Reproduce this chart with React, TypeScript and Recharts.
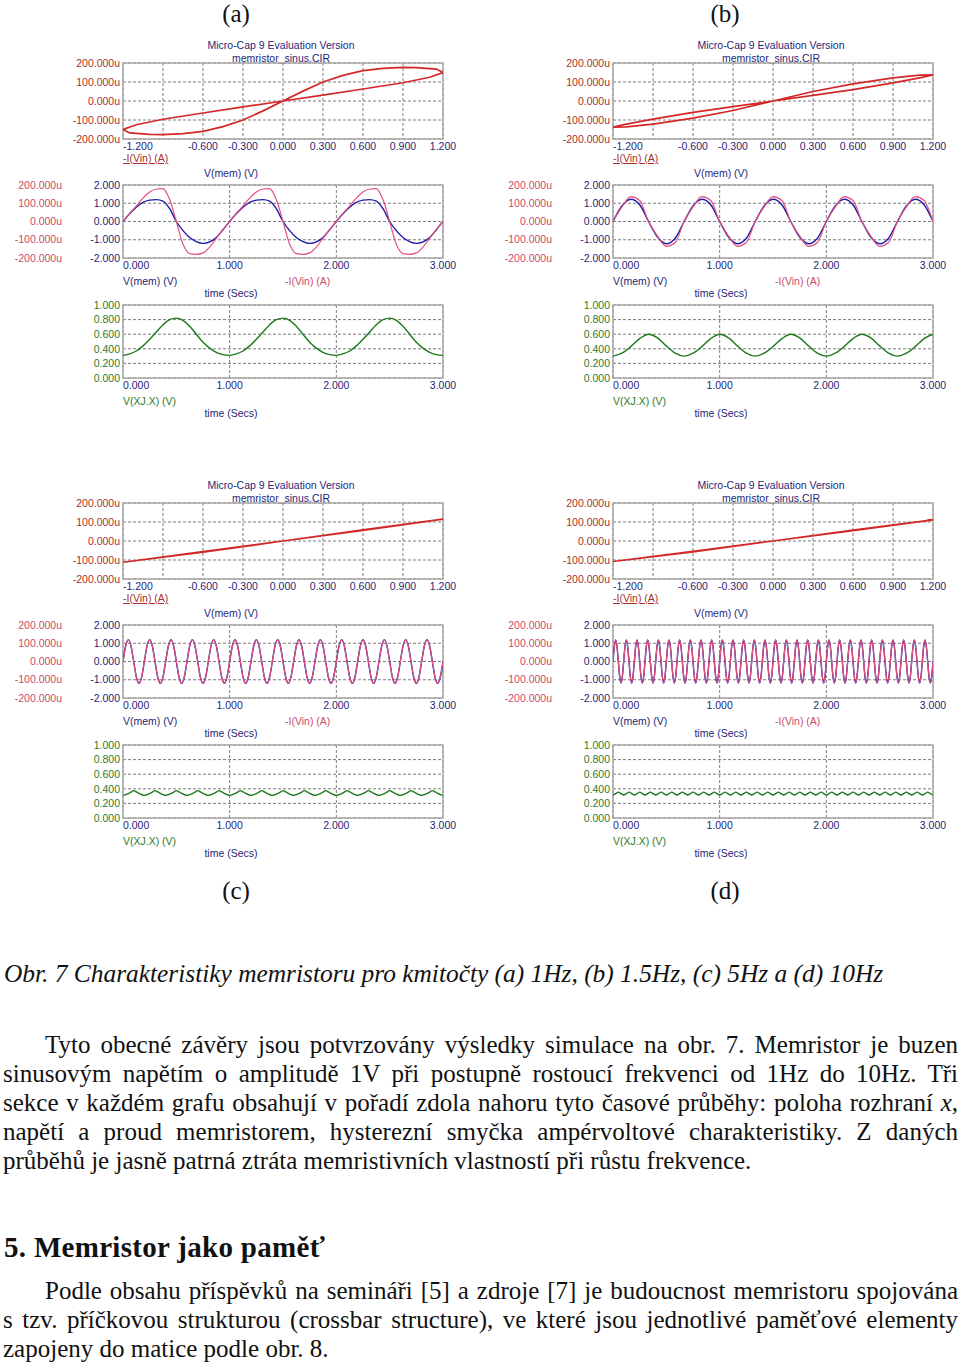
import React from 'react'
import { LineChart, Line, XAxis, YAxis, CartesianGrid, ReferenceArea } from 'recharts'

const SANS = '"Liberation Sans", Arial, sans-serif'
const SERIF = '"Liberation Serif", "Times New Roman", serif'
const FS = 10.5

const NAVY = '#1f1f78'
const DARKRED = '#a8302c'
const PINK = '#c84a6c'
const GREENTXT = '#2c7a2c'
const RED = '#d42828'
const BLUE = '#1c1ca6'
const PINKLINE = '#e2507e'
const GREEN = '#1c7a1c'
const GRID = '#7c7c7c'
const FRAME = '#a9a9a9'

// axis ticks
const ivVoltTicks = [-1.2, -0.9, -0.6, -0.3, 0, 0.3, 0.6, 0.9, 1.2]
const currTicks = [-200, -100, 0, 100, 200]
const timeTicks = [0, 1, 2, 3]
const voltTicks = [-2, -1, 0, 1, 2]
const stateTicks = [0, 0.2, 0.4, 0.6, 0.8, 1]

// hysteresis loops, V(mem) [V] against -I(Vin) [uA], in drawing order
const loopV_a = [0, 0.3, 0.6, 0.9, 1.1, 1.2, 1.15, 1.0, 0.9, 0.75, 0.6, 0.45, 0.3, 0.15, 0, -0.15, -0.3, -0.45, -0.6, -0.75, -0.9, -1.0, -1.15, -1.2, -1.1, -0.9, -0.6, -0.3, 0]
const loopI_a = [0, 31, 63, 96, 125, 150, 168, 176, 177, 172, 160, 135, 100, 52, 0, -52, -100, -135, -160, -172, -177, -176, -168, -150, -125, -96, -63, -31, 0]
const loopV_b = [0, 0.3, 0.6, 0.9, 1.1, 1.2, 1.1, 0.9, 0.6, 0.3, 0, -0.3, -0.6, -0.9, -1.1, -1.2, -1.1, -0.9, -0.6, -0.3, 0]
const loopI_b = [0, 30, 60, 95, 122, 137, 136, 122, 90, 50, 0, -50, -90, -122, -136, -137, -122, -95, -60, -30, 0]
const loopV_c = [0, 0.6, 1.2, 0.6, 0, -0.6, -1.2, -0.6, 0]
const loopI_c = [0, 56, 115, 59, 0, -59, -112, -56, 0]
const loopV_d = [0, 0.6, 1.2, 0.6, 0, -0.6, -1.2, -0.6, 0]
const loopI_d = [0, 55, 111, 57, 0, -57, -108, -55, 0]

// one period of each waveform, read at equal steps of the period
const memV_a = [0, 0.42, 0.78, 1.05, 1.17, 1.2, 1.12, 0.7, 0, -0.5, -0.88, -1.1, -1.2, -1.12, -0.88, -0.45, 0]
const memI_a = [0, 45, 85, 128, 162, 178, 180, 120, 0, -125, -176, -180, -172, -140, -92, -45, 0]
const stateX_a = [0.31, 0.33, 0.37, 0.44, 0.53, 0.63, 0.73, 0.8, 0.82, 0.79, 0.71, 0.6, 0.49, 0.41, 0.35, 0.32, 0.31]

const memV_b = [0, 0.85, 1.22, 0.92, 0, -0.85, -1.22, -0.92, 0]
const memI_b = [0, 80, 136, 115, 0, -80, -136, -115, 0]
const stateX_b = [0.3, 0.34, 0.43, 0.54, 0.6, 0.55, 0.44, 0.34, 0.3]

const memV_c = [0, 0.85, 1.2, 0.85, 0, -0.85, -1.2, -0.85, 0]
const memI_c = [0, 84, 119, 84, 0, -84, -119, -84, 0]
const stateX_c = [0.31, 0.32, 0.335, 0.355, 0.375, 0.358, 0.338, 0.32, 0.31]

const memV_d = [0, 0.83, 1.18, 0.83, 0, -0.83, -1.18, -0.83, 0]
const memI_d = [0, 82, 117, 82, 0, -82, -117, -82, 0]
const stateX_d = [0.315, 0.333, 0.355, 0.335, 0.315]

// periods in seconds: 1Hz, 1.5Hz, 5Hz, 10Hz
const periods = [1, 2 / 3, 0.2, 0.1]

// repeat one period over the 3 s window
function tile(period: number, cols: Record<string, number[]>) {
  const names = Object.keys(cols)
  const n = cols[names[0]].length - 1
  const rows: any[] = []
  for (let c = 0; c < 100; c++) {
    for (let k = c === 0 ? 0 : 1; k <= n; k++) {
      const t = (c + k / n) * period
      if (t > 3 + 1e-9) return rows
      const row: any = { t }
      names.forEach((nm) => (row[nm] = cols[nm][k]))
      rows.push(row)
    }
  }
  return rows
}

const zipLoop = (v: number[], i: number[]) => v.map((x, k) => ({ v: x, i: i[k] }))

const fmtV = (v: number) => (Math.abs(v) < 1e-9 ? '0.000' : v.toFixed(3))
const fmtU = (v: number) => `${fmtV(v)}u`
const fmtIV = (v: number) => (Math.abs(v + 0.9) < 1e-6 ? '' : fmtV(v))

function xTick(color: string, fmt: (v: number) => string) {
  return (p: any) => (
    <text
      x={p.x}
      y={p.y}
      dy="0.71em"
      textAnchor={p.index === 0 ? 'start' : 'middle'}
      fill={color}
      fontSize={FS}
      fontFamily={SANS}
    >
      {fmt(p.payload.value)}
    </text>
  )
}

function Txt({ x, y, color, center, underline, children }: any) {
  return (
    <div
      style={{
        position: 'absolute',
        left: x,
        top: y - 6,
        lineHeight: '12px',
        fontSize: FS,
        fontFamily: SANS,
        color,
        whiteSpace: 'nowrap',
        transform: center ? 'translateX(-50%)' : undefined,
        textDecoration: underline ? 'underline' : undefined,
      }}
    >
      {children}
    </div>
  )
}

const axisCommon = { axisLine: false, tickLine: false, tickSize: 0, allowDataOverflow: true, interval: 0 as const }

function Panel({ L, T, loop, wave, state }: any) {
  const midTop = T + 122
  const botTop = T + 242
  return (
    <>
      <Txt x={L + 158} y={T - 18} color={NAVY} center>Micro-Cap 9 Evaluation Version</Txt>
      <Txt x={L + 158} y={T - 5} color={NAVY} center>memristor_sinus.CIR</Txt>

      <div style={{ position: 'absolute', left: L - 75, top: T - 8 }}>
        <LineChart width={415} height={104} data={loop} margin={{ top: 8, right: 20, bottom: 0, left: 0 }}>
          <CartesianGrid stroke={GRID} strokeDasharray="3 2" />
          <XAxis dataKey="v" type="number" domain={[-1.2, 1.2]} ticks={ivVoltTicks} height={20} tickMargin={4}
            tick={xTick(NAVY, fmtIV)} {...axisCommon} />
          <YAxis type="number" domain={[-200, 200]} ticks={currTicks} width={75} tickMargin={3}
            tick={{ fill: DARKRED, fontSize: FS, fontFamily: SANS }} tickFormatter={fmtU} {...axisCommon} />
          <ReferenceArea x1={-1.2} x2={1.2} y1={-200} y2={200} fill="none" stroke={FRAME} strokeWidth={1.5} ifOverflow="visible" />
          <Line dataKey="i" type="linear" stroke={RED} strokeWidth={1.7} dot={false} isAnimationActive={false} />
        </LineChart>
      </div>
      <Txt x={L} y={T + 95} color={DARKRED} underline>-I(Vin) (A)</Txt>
      <Txt x={L + 108} y={T + 110} color={NAVY} center>V(mem) (V)</Txt>

      <div style={{ position: 'absolute', left: L - 128, top: midTop - 8 }}>
        <LineChart width={468} height={101} data={wave} margin={{ top: 8, right: 20, bottom: 0, left: 0 }}>
          <CartesianGrid yAxisId="a" stroke={GRID} strokeDasharray="3 2" />
          <XAxis dataKey="t" type="number" domain={[0, 3]} ticks={timeTicks} height={20} tickMargin={4}
            tick={xTick(NAVY, fmtV)} {...axisCommon} />
          <YAxis yAxisId="a" type="number" domain={[-2, 2]} ticks={voltTicks} width={58} tickMargin={3}
            tick={{ fill: NAVY, fontSize: FS, fontFamily: SANS }} tickFormatter={fmtV} {...axisCommon} />
          <YAxis yAxisId="b" type="number" domain={[-200, 200]} ticks={currTicks} width={70} tickMargin={3}
            tick={{ fill: PINK, fontSize: FS, fontFamily: SANS }} tickFormatter={fmtU} {...axisCommon} />
          <ReferenceArea yAxisId="a" x1={0} x2={3} y1={-2} y2={2} fill="none" stroke={FRAME} strokeWidth={1.5} ifOverflow="visible" />
          <Line yAxisId="a" dataKey="v" type="monotone" stroke={BLUE} strokeWidth={1.4} dot={false} isAnimationActive={false} />
          <Line yAxisId="b" dataKey="i" type="monotone" stroke={PINKLINE} strokeWidth={1.2} dot={false} isAnimationActive={false} />
        </LineChart>
      </div>
      <Txt x={L} y={midTop + 96} color={NAVY}>V(mem) (V)</Txt>
      <Txt x={L + 162} y={midTop + 96} color={PINK}>-I(Vin) (A)</Txt>
      <Txt x={L + 108} y={midTop + 108} color={NAVY} center>time (Secs)</Txt>

      <div style={{ position: 'absolute', left: L - 75, top: botTop - 8 }}>
        <LineChart width={415} height={101} data={state} margin={{ top: 8, right: 20, bottom: 0, left: 0 }}>
          <CartesianGrid stroke={GRID} strokeDasharray="3 2" />
          <XAxis dataKey="t" type="number" domain={[0, 3]} ticks={timeTicks} height={20} tickMargin={4}
            tick={xTick(NAVY, fmtV)} {...axisCommon} />
          <YAxis type="number" domain={[0, 1]} ticks={stateTicks} width={75} tickMargin={3}
            tick={{ fill: GREENTXT, fontSize: FS, fontFamily: SANS }} tickFormatter={fmtV} {...axisCommon} />
          <ReferenceArea x1={0} x2={3} y1={0} y2={1} fill="none" stroke={FRAME} strokeWidth={1.5} ifOverflow="visible" />
          <Line dataKey="x" type="monotone" stroke={GREEN} strokeWidth={1.4} dot={false} isAnimationActive={false} />
        </LineChart>
      </div>
      <Txt x={L} y={botTop + 96} color={GREENTXT}>V(XJ.X) (V)</Txt>
      <Txt x={L + 108} y={botTop + 108} color={NAVY} center>time (Secs)</Txt>
    </>
  )
}

const panels = [
  { L: 123, T: 63, loop: zipLoop(loopV_a, loopI_a), wave: tile(periods[0], { v: memV_a, i: memI_a }), state: tile(periods[0], { x: stateX_a }) },
  { L: 613, T: 63, loop: zipLoop(loopV_b, loopI_b), wave: tile(periods[1], { v: memV_b, i: memI_b }), state: tile(periods[1], { x: stateX_b }) },
  { L: 123, T: 503, loop: zipLoop(loopV_c, loopI_c), wave: tile(periods[2], { v: memV_c, i: memI_c }), state: tile(periods[2], { x: stateX_c }) },
  { L: 613, T: 503, loop: zipLoop(loopV_d, loopI_d), wave: tile(periods[3], { v: memV_d, i: memI_d }), state: tile(periods[3], { x: stateX_d }) },
]

const para1 = [
  'Tyto obecné závěry jsou potvrzovány výsledky simulace na obr. 7. Memristor je buzen',
  'sinusovým napětím o amplitudě 1V při postupně rostoucí frekvenci od 1Hz do 10Hz. Tři',
  'sekce v každém grafu obsahují v pořadí zdola nahoru tyto časové průběhy: poloha rozhraní',
  'napětí a proud memristorem, hysterezní smyčka ampérvoltové charakteristiky. Z daných',
  'průběhů je jasně patrná ztráta memristivních vlastností při růstu frekvence.',
]
const para2 = [
  'Podle obsahu příspěvků na semináři [5] a zdroje [7] je budoucnost memristoru spojována',
  's tzv. příčkovou strukturou (crossbar structure), ve které jsou jednotlivé paměťové elementy',
  'zapojeny do matice podle obr. 8.',
]

function Para({ lines, top }: { lines: string[]; top: number }) {
  return (
    <div style={{ position: 'absolute', left: 3, top, width: 955, fontFamily: SERIF, fontSize: 25, color: '#111' }}>
      {lines.map((ln, k) => (
        <div
          key={k}
          style={{
            height: 29,
            lineHeight: '29px',
            paddingLeft: k === 0 ? 42 : 0,
            textAlign: 'justify',
            textAlignLast: k === lines.length - 1 ? 'left' : 'justify',
            whiteSpace: 'nowrap',
          }}
        >
          {ln}
          {lines === para1 && k === 2 ? <> <i>x</i>,</> : null}
        </div>
      ))}
    </div>
  )
}

const letter = (s: string, x: number, y: number) => (
  <div style={{ position: 'absolute', left: x, top: y - 12, width: 40, marginLeft: -20, textAlign: 'center', fontFamily: SERIF, fontSize: 25, lineHeight: '25px', color: '#111' }}>
    {s}
  </div>
)

export default function App() {
  return (
    <div style={{ position: 'relative', width: 960, height: 1365, background: '#fff', overflow: 'hidden' }}>
      <style>{'body{margin:0}'}</style>
      {letter('(a)', 236, 13)}
      {letter('(b)', 725, 13)}
      {letter('(c)', 236, 890)}
      {letter('(d)', 725, 890)}
      {panels.map((p, k) => (
        <Panel key={k} {...p} />
      ))}
      <div style={{ position: 'absolute', left: 4, top: 958, fontFamily: SERIF, fontStyle: 'italic', fontSize: 25.4, lineHeight: '30px', color: '#111', whiteSpace: 'nowrap' }}>
        Obr. 7 Charakteristiky memristoru pro kmitočty (a) 1Hz, (b) 1.5Hz, (c) 5Hz a (d) 10Hz
      </div>
      <Para lines={para1} top={1030} />
      <div style={{ position: 'absolute', left: 4, top: 1232, fontFamily: SERIF, fontWeight: 'bold', fontSize: 29, letterSpacing: 0.3, lineHeight: '30px', color: '#111', whiteSpace: 'nowrap' }}>
        5. Memristor jako paměť
      </div>
      <Para lines={para2} top={1276} />
    </div>
  )
}
